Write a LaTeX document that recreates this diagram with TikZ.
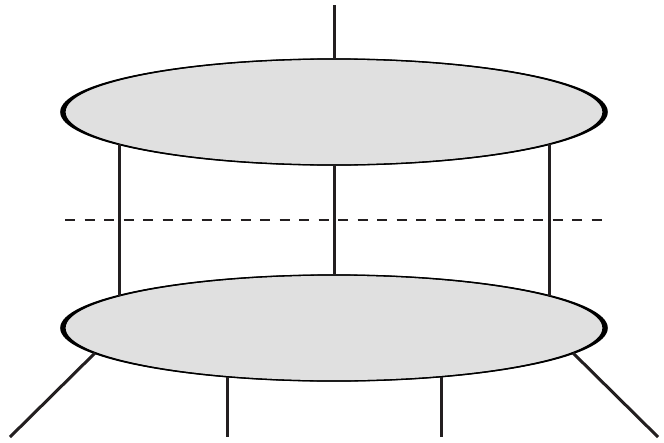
\documentclass[tikz,border=0pt]{standalone}
\usetikzlibrary{shapes.geometric,calc}
\definecolor{disc}{HTML}{E0E0E0}
\definecolor{ink}{HTML}{231F20}
\tikzset{
  discnode/.style={ellipse, fill=disc, draw=black, line width=1.2pt, minimum width=542pt, minimum height=106pt, inner sep=0pt, outer sep=0pt},
  rim/.style={fill=black, even odd rule},
  leg/.style={draw=ink, line width=3pt},
  cut/.style={draw=ink, line width=2.1pt, dash pattern=on 10pt off 9.5pt}
}
\newcommand{\discrim}[1]{%
  \fill[rim] (#1) ellipse [x radius=273.8pt, y radius=53.7pt] (#1) ellipse [x radius=268.4pt, y radius=52.4pt];}
\begin{document}
\begin{tikzpicture}[x=1pt,y=-1pt]
\useasboundingbox (0,0) rectangle (664,442);
\fill[white] (0,0) rectangle (664,442);
\node[discnode] (top) at (334,112) {};
\node[discnode] (bot) at (334,328) {};
\discrim{top.center}
\discrim{bot.center}
\coordinate (tin) at (334,5);
\coordinate (tl) at ($(top.center)+(-215,32.3)$);
\coordinate (tr) at ($(top.center)+(215,32.3)$);
\coordinate (bl) at ($(bot.center)+(-215,-32.3)$);
\coordinate (br) at ($(bot.center)+(215,-32.3)$);
\coordinate (bdl) at ($(bot.center)+(-239,25)$);
\coordinate (bdr) at ($(bot.center)+(239,25)$);
\coordinate (bvl) at ($(bot.center)+(-107,48.7)$);
\coordinate (bvr) at ($(bot.center)+(107,48.7)$);
\coordinate (o1) at (10,437);
\coordinate (o2) at (227,437);
\coordinate (o3) at (441,437);
\coordinate (o4) at (658,437);
\coordinate (cl) at (65,220);
\coordinate (cr) at (604,220);
\draw[leg] (tin) -- (top.north);
\draw[leg] (tl) -- (bl);
\draw[leg] (top.south) -- (bot.north);
\draw[leg] (tr) -- (br);
\draw[leg] (bdl) -- (o1);
\draw[leg] (bvl) -- (o2);
\draw[leg] (bvr) -- (o3);
\draw[leg] (bdr) -- (o4);
\draw[cut] (cl) -- (cr);
\end{tikzpicture}
\end{document}
